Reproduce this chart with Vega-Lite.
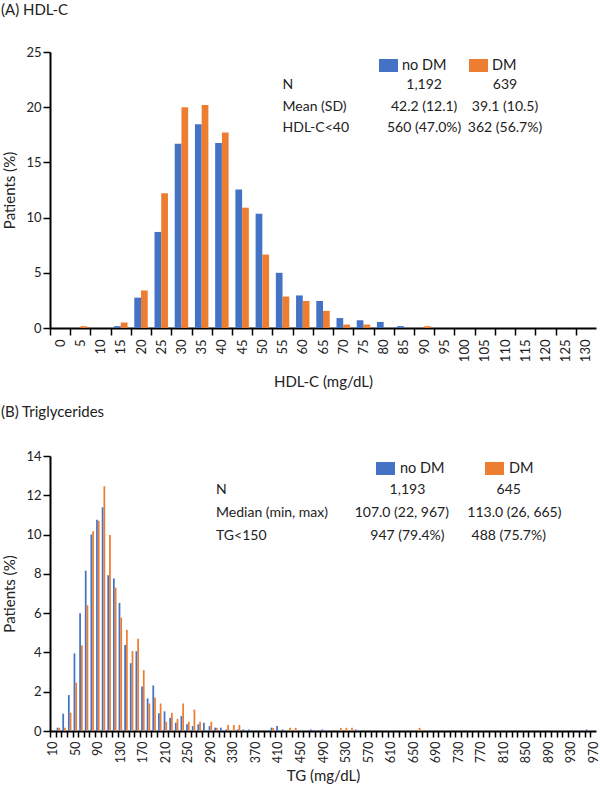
{
  "$schema": "https://vega.github.io/schema/vega-lite/v6.json",
  "padding": {"left": 1, "top": 3, "right": 0, "bottom": 0},
  "spacing": 15,
  "resolve": {"scale": {"xOffset": "independent", "color": "independent"}, "legend": {"color": "independent"}},
  "config": {
    "font": "Lato",
    "view": {"stroke": null},
    "axis": {
      "domainColor": "#000000",
      "domainWidth": 2,
      "tickColor": "#000000",
      "tickWidth": 1.5,
      "tickSize": 7,
      "labelColor": "#222222",
      "titleColor": "#222222",
      "labelFont": "Lato",
      "titleFont": "Lato",
      "labelFontSize": 13,
      "titleFontSize": 15,
      "titleFontWeight": "normal",
      "labelOverlap": false,
      "grid": false
    },
    "legend": {"labelFont": "Lato", "labelFontSize": 14.5, "labelColor": "#222222"},
    "title": {"font": "Lato", "fontSize": 15, "fontWeight": "normal", "color": "#222222"}
  },
  "vconcat": [
    {
      "width": 546,
      "height": 276,
      "title": {"text": "(A) HDL-C", "anchor": "start", "frame": "group", "dx": -49, "offset": 28},
      "layer": [
        {
          "data": {"values": [
            {"g": "no DM", "x": 0, "p": 0}, {"g": "DM", "x": 0, "p": 0},
            {"g": "no DM", "x": 5, "p": 0}, {"g": "DM", "x": 5, "p": 0.16},
            {"g": "no DM", "x": 10, "p": 0}, {"g": "DM", "x": 10, "p": 0},
            {"g": "no DM", "x": 15, "p": 0.17}, {"g": "DM", "x": 15, "p": 0.5},
            {"g": "no DM", "x": 20, "p": 2.75}, {"g": "DM", "x": 20, "p": 3.4},
            {"g": "no DM", "x": 25, "p": 8.7}, {"g": "DM", "x": 25, "p": 12.2},
            {"g": "no DM", "x": 30, "p": 16.7}, {"g": "DM", "x": 30, "p": 20.0},
            {"g": "no DM", "x": 35, "p": 18.45}, {"g": "DM", "x": 35, "p": 20.2},
            {"g": "no DM", "x": 40, "p": 16.75}, {"g": "DM", "x": 40, "p": 17.7},
            {"g": "no DM", "x": 45, "p": 12.55}, {"g": "DM", "x": 45, "p": 10.9},
            {"g": "no DM", "x": 50, "p": 10.35}, {"g": "DM", "x": 50, "p": 6.65},
            {"g": "no DM", "x": 55, "p": 5.0}, {"g": "DM", "x": 55, "p": 2.85},
            {"g": "no DM", "x": 60, "p": 2.95}, {"g": "DM", "x": 60, "p": 2.45},
            {"g": "no DM", "x": 65, "p": 2.45}, {"g": "DM", "x": 65, "p": 1.55},
            {"g": "no DM", "x": 70, "p": 0.9}, {"g": "DM", "x": 70, "p": 0.31},
            {"g": "no DM", "x": 75, "p": 0.7}, {"g": "DM", "x": 75, "p": 0.31},
            {"g": "no DM", "x": 80, "p": 0.55}, {"g": "DM", "x": 80, "p": 0},
            {"g": "no DM", "x": 85, "p": 0.17}, {"g": "DM", "x": 85, "p": 0},
            {"g": "no DM", "x": 90, "p": 0}, {"g": "DM", "x": 90, "p": 0.16},
            {"g": "no DM", "x": 95, "p": 0}, {"g": "DM", "x": 95, "p": 0},
            {"g": "no DM", "x": 100, "p": 0}, {"g": "DM", "x": 100, "p": 0},
            {"g": "no DM", "x": 105, "p": 0}, {"g": "DM", "x": 105, "p": 0},
            {"g": "no DM", "x": 110, "p": 0}, {"g": "DM", "x": 110, "p": 0},
            {"g": "no DM", "x": 115, "p": 0}, {"g": "DM", "x": 115, "p": 0},
            {"g": "no DM", "x": 120, "p": 0}, {"g": "DM", "x": 120, "p": 0},
            {"g": "no DM", "x": 125, "p": 0}, {"g": "DM", "x": 125, "p": 0},
            {"g": "no DM", "x": 130, "p": 0}, {"g": "DM", "x": 130, "p": 0}
          ]},
          "mark": {"type": "bar"},
          "encoding": {
            "x": {"field": "x", "type": "ordinal", "sort": "ascending",
              "scale": {"paddingInner": 0.335, "paddingOuter": 0.1675},
              "axis": {"title": "HDL-C (mg/dL)", "labelAngle": -90, "tickOffset": -10.1, "labelOffset": 10.1, "labelPadding": 4, "titlePadding": 13, "labelOverlap": false}},
            "xOffset": {"field": "g", "type": "nominal", "scale": {"domain": ["no DM", "DM"], "paddingInner": 0, "paddingOuter": 0}},
            "y": {"field": "p", "type": "quantitative", "scale": {"domain": [0, 25], "nice": false},
              "axis": {"title": "Patients (%)", "values": [0, 5, 10, 15, 20, 25], "titlePadding": 8, "labelOverlap": false}},
            "color": {"field": "g", "type": "nominal",
              "scale": {"domain": ["no DM", "DM"], "range": ["#4472C4", "#ED7D31"]},
              "legend": {"title": null, "orient": "none", "direction": "horizontal", "legendX": 329, "legendY": 4, "symbolType": "M-1,-0.684H1V0.684H-1Z", "symbolSize": 361, "symbolStrokeWidth": 0, "labelOffset": 4, "columnPadding": 22}}
          }
        },
        {"data": {"values": [{"t": "N"}]}, "mark": {"type": "text", "align": "left", "fontSize": 14, "color": "#222222"}, "encoding": {"x": {"datum": 55, "type": "ordinal"}, "y": {"datum": 22.05, "type": "quantitative"}, "text": {"field": "t"}}},
        {"data": {"values": [{"t": "Mean (SD)"}]}, "mark": {"type": "text", "align": "left", "fontSize": 14, "color": "#222222"}, "encoding": {"x": {"datum": 55, "type": "ordinal"}, "y": {"datum": 20.06, "type": "quantitative"}, "text": {"field": "t"}}},
        {"data": {"values": [{"t": "HDL-C<40"}]}, "mark": {"type": "text", "align": "left", "fontSize": 14, "color": "#222222"}, "encoding": {"x": {"datum": 55, "type": "ordinal"}, "y": {"datum": 18.12, "type": "quantitative"}, "text": {"field": "t"}}},
        {"data": {"values": [{"t": "1,192"}]}, "mark": {"type": "text", "align": "center", "fontSize": 14, "color": "#222222"}, "encoding": {"x": {"datum": 90, "type": "ordinal"}, "y": {"datum": 22.05, "type": "quantitative"}, "text": {"field": "t"}}},
        {"data": {"values": [{"t": "42.2 (12.1)"}]}, "mark": {"type": "text", "align": "center", "fontSize": 14, "color": "#222222"}, "encoding": {"x": {"datum": 90, "type": "ordinal"}, "y": {"datum": 20.06, "type": "quantitative"}, "text": {"field": "t"}}},
        {"data": {"values": [{"t": "560 (47.0%)"}]}, "mark": {"type": "text", "align": "center", "fontSize": 14, "color": "#222222"}, "encoding": {"x": {"datum": 90, "type": "ordinal"}, "y": {"datum": 18.12, "type": "quantitative"}, "text": {"field": "t"}}},
        {"data": {"values": [{"t": "639"}]}, "mark": {"type": "text", "align": "center", "fontSize": 14, "color": "#222222"}, "encoding": {"x": {"datum": 110, "type": "ordinal"}, "y": {"datum": 22.05, "type": "quantitative"}, "text": {"field": "t"}}},
        {"data": {"values": [{"t": "39.1 (10.5)"}]}, "mark": {"type": "text", "align": "center", "fontSize": 14, "color": "#222222"}, "encoding": {"x": {"datum": 110, "type": "ordinal"}, "y": {"datum": 20.06, "type": "quantitative"}, "text": {"field": "t"}}},
        {"data": {"values": [{"t": "362 (56.7%)"}]}, "mark": {"type": "text", "align": "center", "fontSize": 14, "color": "#222222"}, "encoding": {"x": {"datum": 110, "type": "ordinal"}, "y": {"datum": 18.12, "type": "quantitative"}, "text": {"field": "t"}}}
      ]
    },
    {
      "width": 546,
      "height": 275,
      "title": {"text": "(B) Triglycerides", "anchor": "start", "frame": "group", "dx": -49, "offset": 30},
      "layer": [
        {
          "data": {"values": [
            {"g": "no DM", "x": 10, "p": 0}, {"g": "DM", "x": 10, "p": 0},
            {"g": "no DM", "x": 20, "p": 0.17}, {"g": "DM", "x": 20, "p": 0.16},
            {"g": "no DM", "x": 30, "p": 0.88}, {"g": "DM", "x": 30, "p": 0.16},
            {"g": "no DM", "x": 40, "p": 1.83}, {"g": "DM", "x": 40, "p": 0.93},
            {"g": "no DM", "x": 50, "p": 3.95}, {"g": "DM", "x": 50, "p": 2.46},
            {"g": "no DM", "x": 60, "p": 6.0}, {"g": "DM", "x": 60, "p": 4.36},
            {"g": "no DM", "x": 70, "p": 8.16}, {"g": "DM", "x": 70, "p": 6.4},
            {"g": "no DM", "x": 80, "p": 10.0}, {"g": "DM", "x": 80, "p": 10.17},
            {"g": "no DM", "x": 90, "p": 10.76}, {"g": "DM", "x": 90, "p": 10.7},
            {"g": "no DM", "x": 100, "p": 11.39}, {"g": "DM", "x": 100, "p": 12.46},
            {"g": "no DM", "x": 110, "p": 7.93}, {"g": "DM", "x": 110, "p": 9.98},
            {"g": "no DM", "x": 120, "p": 7.76}, {"g": "DM", "x": 120, "p": 7.3},
            {"g": "no DM", "x": 130, "p": 6.52}, {"g": "DM", "x": 130, "p": 5.77},
            {"g": "no DM", "x": 140, "p": 4.38}, {"g": "DM", "x": 140, "p": 5.15},
            {"g": "no DM", "x": 150, "p": 3.45}, {"g": "DM", "x": 150, "p": 4.07},
            {"g": "no DM", "x": 160, "p": 4.06}, {"g": "DM", "x": 160, "p": 4.7},
            {"g": "no DM", "x": 170, "p": 2.26}, {"g": "DM", "x": 170, "p": 3.1},
            {"g": "no DM", "x": 180, "p": 1.66}, {"g": "DM", "x": 180, "p": 1.4},
            {"g": "no DM", "x": 190, "p": 2.32}, {"g": "DM", "x": 190, "p": 1.71},
            {"g": "no DM", "x": 200, "p": 0.9}, {"g": "DM", "x": 200, "p": 1.4},
            {"g": "no DM", "x": 210, "p": 1.0}, {"g": "DM", "x": 210, "p": 0.47},
            {"g": "no DM", "x": 220, "p": 0.67}, {"g": "DM", "x": 220, "p": 0.93},
            {"g": "no DM", "x": 230, "p": 0.42}, {"g": "DM", "x": 230, "p": 0.62},
            {"g": "no DM", "x": 240, "p": 0.76}, {"g": "DM", "x": 240, "p": 1.4},
            {"g": "no DM", "x": 250, "p": 0.34}, {"g": "DM", "x": 250, "p": 0.47},
            {"g": "no DM", "x": 260, "p": 0.25}, {"g": "DM", "x": 260, "p": 1.09},
            {"g": "no DM", "x": 270, "p": 0.34}, {"g": "DM", "x": 270, "p": 0.47},
            {"g": "no DM", "x": 280, "p": 0.42}, {"g": "DM", "x": 280, "p": 0},
            {"g": "no DM", "x": 290, "p": 0.25}, {"g": "DM", "x": 290, "p": 0.47},
            {"g": "no DM", "x": 300, "p": 0.17}, {"g": "DM", "x": 300, "p": 0.16},
            {"g": "no DM", "x": 310, "p": 0.17}, {"g": "DM", "x": 310, "p": 0},
            {"g": "no DM", "x": 320, "p": 0.08}, {"g": "DM", "x": 320, "p": 0.31},
            {"g": "no DM", "x": 330, "p": 0}, {"g": "DM", "x": 330, "p": 0.31},
            {"g": "no DM", "x": 340, "p": 0.08}, {"g": "DM", "x": 340, "p": 0.31},
            {"g": "no DM", "x": 350, "p": 0.08}, {"g": "DM", "x": 350, "p": 0},
            {"g": "no DM", "x": 360, "p": 0.08}, {"g": "DM", "x": 360, "p": 0},
            {"g": "no DM", "x": 370, "p": 0}, {"g": "DM", "x": 370, "p": 0},
            {"g": "no DM", "x": 380, "p": 0}, {"g": "DM", "x": 380, "p": 0},
            {"g": "no DM", "x": 390, "p": 0}, {"g": "DM", "x": 390, "p": 0},
            {"g": "no DM", "x": 400, "p": 0.17}, {"g": "DM", "x": 400, "p": 0.16},
            {"g": "no DM", "x": 410, "p": 0.25}, {"g": "DM", "x": 410, "p": 0},
            {"g": "no DM", "x": 420, "p": 0.08}, {"g": "DM", "x": 420, "p": 0},
            {"g": "no DM", "x": 430, "p": 0}, {"g": "DM", "x": 430, "p": 0.16},
            {"g": "no DM", "x": 440, "p": 0}, {"g": "DM", "x": 440, "p": 0.16},
            {"g": "no DM", "x": 450, "p": 0}, {"g": "DM", "x": 450, "p": 0},
            {"g": "no DM", "x": 460, "p": 0}, {"g": "DM", "x": 460, "p": 0},
            {"g": "no DM", "x": 470, "p": 0.08}, {"g": "DM", "x": 470, "p": 0},
            {"g": "no DM", "x": 480, "p": 0}, {"g": "DM", "x": 480, "p": 0},
            {"g": "no DM", "x": 490, "p": 0.08}, {"g": "DM", "x": 490, "p": 0},
            {"g": "no DM", "x": 500, "p": 0}, {"g": "DM", "x": 500, "p": 0},
            {"g": "no DM", "x": 510, "p": 0}, {"g": "DM", "x": 510, "p": 0},
            {"g": "no DM", "x": 520, "p": 0}, {"g": "DM", "x": 520, "p": 0.16},
            {"g": "no DM", "x": 530, "p": 0}, {"g": "DM", "x": 530, "p": 0.16},
            {"g": "no DM", "x": 540, "p": 0}, {"g": "DM", "x": 540, "p": 0.16},
            {"g": "no DM", "x": 550, "p": 0.08}, {"g": "DM", "x": 550, "p": 0},
            {"g": "no DM", "x": 560, "p": 0}, {"g": "DM", "x": 560, "p": 0},
            {"g": "no DM", "x": 570, "p": 0}, {"g": "DM", "x": 570, "p": 0},
            {"g": "no DM", "x": 580, "p": 0}, {"g": "DM", "x": 580, "p": 0},
            {"g": "no DM", "x": 590, "p": 0}, {"g": "DM", "x": 590, "p": 0},
            {"g": "no DM", "x": 600, "p": 0}, {"g": "DM", "x": 600, "p": 0},
            {"g": "no DM", "x": 610, "p": 0}, {"g": "DM", "x": 610, "p": 0},
            {"g": "no DM", "x": 620, "p": 0}, {"g": "DM", "x": 620, "p": 0},
            {"g": "no DM", "x": 630, "p": 0}, {"g": "DM", "x": 630, "p": 0},
            {"g": "no DM", "x": 640, "p": 0}, {"g": "DM", "x": 640, "p": 0},
            {"g": "no DM", "x": 650, "p": 0}, {"g": "DM", "x": 650, "p": 0},
            {"g": "no DM", "x": 660, "p": 0}, {"g": "DM", "x": 660, "p": 0.16},
            {"g": "no DM", "x": 670, "p": 0}, {"g": "DM", "x": 670, "p": 0},
            {"g": "no DM", "x": 680, "p": 0}, {"g": "DM", "x": 680, "p": 0},
            {"g": "no DM", "x": 690, "p": 0}, {"g": "DM", "x": 690, "p": 0},
            {"g": "no DM", "x": 700, "p": 0}, {"g": "DM", "x": 700, "p": 0},
            {"g": "no DM", "x": 710, "p": 0}, {"g": "DM", "x": 710, "p": 0},
            {"g": "no DM", "x": 720, "p": 0}, {"g": "DM", "x": 720, "p": 0},
            {"g": "no DM", "x": 730, "p": 0}, {"g": "DM", "x": 730, "p": 0},
            {"g": "no DM", "x": 740, "p": 0}, {"g": "DM", "x": 740, "p": 0},
            {"g": "no DM", "x": 750, "p": 0}, {"g": "DM", "x": 750, "p": 0},
            {"g": "no DM", "x": 760, "p": 0}, {"g": "DM", "x": 760, "p": 0},
            {"g": "no DM", "x": 770, "p": 0}, {"g": "DM", "x": 770, "p": 0},
            {"g": "no DM", "x": 780, "p": 0}, {"g": "DM", "x": 780, "p": 0},
            {"g": "no DM", "x": 790, "p": 0}, {"g": "DM", "x": 790, "p": 0},
            {"g": "no DM", "x": 800, "p": 0}, {"g": "DM", "x": 800, "p": 0},
            {"g": "no DM", "x": 810, "p": 0}, {"g": "DM", "x": 810, "p": 0},
            {"g": "no DM", "x": 820, "p": 0}, {"g": "DM", "x": 820, "p": 0},
            {"g": "no DM", "x": 830, "p": 0}, {"g": "DM", "x": 830, "p": 0},
            {"g": "no DM", "x": 840, "p": 0}, {"g": "DM", "x": 840, "p": 0},
            {"g": "no DM", "x": 850, "p": 0}, {"g": "DM", "x": 850, "p": 0},
            {"g": "no DM", "x": 860, "p": 0}, {"g": "DM", "x": 860, "p": 0},
            {"g": "no DM", "x": 870, "p": 0}, {"g": "DM", "x": 870, "p": 0},
            {"g": "no DM", "x": 880, "p": 0}, {"g": "DM", "x": 880, "p": 0},
            {"g": "no DM", "x": 890, "p": 0}, {"g": "DM", "x": 890, "p": 0},
            {"g": "no DM", "x": 900, "p": 0}, {"g": "DM", "x": 900, "p": 0},
            {"g": "no DM", "x": 910, "p": 0}, {"g": "DM", "x": 910, "p": 0},
            {"g": "no DM", "x": 920, "p": 0}, {"g": "DM", "x": 920, "p": 0},
            {"g": "no DM", "x": 930, "p": 0}, {"g": "DM", "x": 930, "p": 0},
            {"g": "no DM", "x": 940, "p": 0}, {"g": "DM", "x": 940, "p": 0},
            {"g": "no DM", "x": 950, "p": 0}, {"g": "DM", "x": 950, "p": 0},
            {"g": "no DM", "x": 960, "p": 0.08}, {"g": "DM", "x": 960, "p": 0},
            {"g": "no DM", "x": 970, "p": 0}, {"g": "DM", "x": 970, "p": 0}
          ]},
          "mark": {"type": "bar"},
          "encoding": {
            "x": {"field": "x", "type": "ordinal", "sort": "ascending",
              "scale": {"paddingInner": 0.38, "paddingOuter": 0.19},
              "axis": {"title": "TG (mg/dL)", "labelAngle": -90, "tickOffset": -2.815, "labelOffset": 2.815, "tickSize": 6, "labelPadding": 4, "titlePadding": 6, "labelOverlap": false, "labelFontSize": 12.5,
                "labelExpr": "datum.value % 40 == 10 ? datum.label : ''"}},
            "xOffset": {"field": "g", "type": "nominal", "scale": {"domain": ["no DM", "DM"], "paddingInner": 0, "paddingOuter": 0}},
            "y": {"field": "p", "type": "quantitative", "scale": {"domain": [0, 14], "nice": false},
              "axis": {"title": "Patients (%)", "values": [0, 2, 4, 6, 8, 10, 12, 14], "titlePadding": 8, "labelOverlap": false}},
            "color": {"field": "g", "type": "nominal",
              "scale": {"domain": ["no DM", "DM"], "range": ["#4472C4", "#ED7D31"]},
              "legend": {"title": null, "orient": "none", "direction": "horizontal", "legendX": 326, "legendY": 3, "symbolType": "M-1,-0.684H1V0.684H-1Z", "symbolSize": 361, "symbolStrokeWidth": 0, "labelOffset": 5, "columnPadding": 40}}
          }
        },
        {"data": {"values": [{"t": "N"}]}, "mark": {"type": "text", "align": "left", "fontSize": 14, "color": "#222222"}, "encoding": {"x": {"datum": 300, "type": "ordinal"}, "y": {"datum": 12.25, "type": "quantitative", "axis": {"title": "Patients (%)", "values": [0, 2, 4, 6, 8, 10, 12, 14], "titlePadding": 8, "labelOverlap": false}}, "text": {"field": "t"}}},
        {"data": {"values": [{"t": "Median (min, max)"}]}, "mark": {"type": "text", "align": "left", "fontSize": 14, "color": "#222222"}, "encoding": {"x": {"datum": 300, "type": "ordinal"}, "y": {"datum": 11.12, "type": "quantitative", "axis": {"title": "Patients (%)", "values": [0, 2, 4, 6, 8, 10, 12, 14], "titlePadding": 8, "labelOverlap": false}}, "text": {"field": "t"}}},
        {"data": {"values": [{"t": "TG<150"}]}, "mark": {"type": "text", "align": "left", "fontSize": 14, "color": "#222222"}, "encoding": {"x": {"datum": 300, "type": "ordinal"}, "y": {"datum": 9.95, "type": "quantitative", "axis": {"title": "Patients (%)", "values": [0, 2, 4, 6, 8, 10, 12, 14], "titlePadding": 8, "labelOverlap": false}}, "text": {"field": "t"}}},
        {"data": {"values": [{"t": "1,193"}]}, "mark": {"type": "text", "align": "center", "fontSize": 14, "color": "#222222"}, "encoding": {"x": {"datum": 640, "type": "ordinal"}, "y": {"datum": 12.25, "type": "quantitative", "axis": {"title": "Patients (%)", "values": [0, 2, 4, 6, 8, 10, 12, 14], "titlePadding": 8, "labelOverlap": false}}, "text": {"field": "t"}}},
        {"data": {"values": [{"t": "107.0 (22, 967)"}]}, "mark": {"type": "text", "align": "center", "fontSize": 14, "color": "#222222"}, "encoding": {"x": {"datum": 630, "type": "ordinal"}, "y": {"datum": 11.12, "type": "quantitative", "axis": {"title": "Patients (%)", "values": [0, 2, 4, 6, 8, 10, 12, 14], "titlePadding": 8, "labelOverlap": false}}, "text": {"field": "t"}}},
        {"data": {"values": [{"t": "947 (79.4%)"}]}, "mark": {"type": "text", "align": "center", "fontSize": 14, "color": "#222222"}, "encoding": {"x": {"datum": 640, "type": "ordinal"}, "y": {"datum": 9.95, "type": "quantitative", "axis": {"title": "Patients (%)", "values": [0, 2, 4, 6, 8, 10, 12, 14], "titlePadding": 8, "labelOverlap": false}}, "text": {"field": "t"}}},
        {"data": {"values": [{"t": "645"}]}, "mark": {"type": "text", "align": "center", "fontSize": 14, "color": "#222222"}, "encoding": {"x": {"datum": 820, "type": "ordinal"}, "y": {"datum": 12.25, "type": "quantitative", "axis": {"title": "Patients (%)", "values": [0, 2, 4, 6, 8, 10, 12, 14], "titlePadding": 8, "labelOverlap": false}}, "text": {"field": "t"}}},
        {"data": {"values": [{"t": "113.0 (26, 665)"}]}, "mark": {"type": "text", "align": "center", "fontSize": 14, "color": "#222222"}, "encoding": {"x": {"datum": 830, "type": "ordinal"}, "y": {"datum": 11.12, "type": "quantitative", "axis": {"title": "Patients (%)", "values": [0, 2, 4, 6, 8, 10, 12, 14], "titlePadding": 8, "labelOverlap": false}}, "text": {"field": "t"}}},
        {"data": {"values": [{"t": "488 (75.7%)"}]}, "mark": {"type": "text", "align": "center", "fontSize": 14, "color": "#222222"}, "encoding": {"x": {"datum": 820, "type": "ordinal"}, "y": {"datum": 9.95, "type": "quantitative", "axis": {"title": "Patients (%)", "values": [0, 2, 4, 6, 8, 10, 12, 14], "titlePadding": 8, "labelOverlap": false}}, "text": {"field": "t"}}}
      ]
    }
  ]
}
